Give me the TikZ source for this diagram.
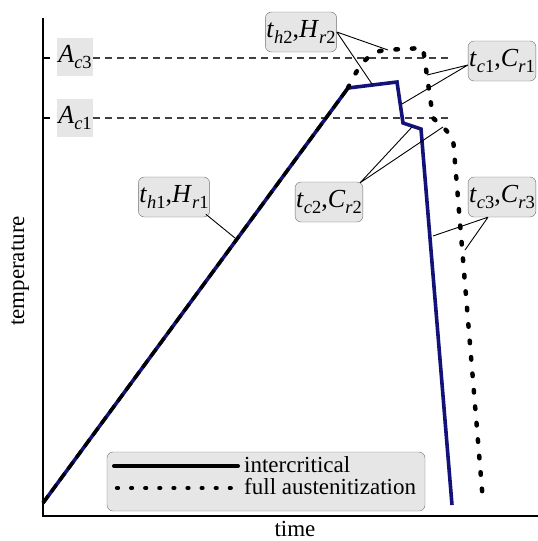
\documentclass[tikz,border=0pt]{standalone}
\usepackage{fontspec}
\setmainfont{Liberation Serif}
\usetikzlibrary{positioning}

\definecolor{navyline}{RGB}{18,18,120}
\definecolor{boxfill}{RGB}{230,230,230}
\definecolor{boxdraw}{RGB}{110,110,110}

\newcommand{\symsub}[2]{\textit{#1}\raisebox{-6pt}{\fontsize{18.5}{20}\selectfont #2}}

\tikzset{
  lbl/.style={draw=boxdraw, fill=boxfill, rounded corners=6pt, inner sep=1pt,
    minimum height=40pt, font=\fontsize{26}{30}\selectfont},
  crit/.style={fill=boxfill, inner sep=0pt, font=\fontsize{26}{30}\selectfont},
  axislab/.style={font=\fontsize{23}{26}\selectfont},
  axis/.style={line width=2.4pt},
  refline/.style={draw=black!75, line width=1.1pt, dash pattern=on 7pt off 5pt},
  interline/.style={draw=navyline, line width=3.6pt, line join=miter},
  fullline/.style={draw=black, line width=4.5pt, line cap=round, dash pattern=on 2.5pt off 14pt},
  rampline/.style={draw=black, line width=3.4pt, dash pattern=on 9pt off 5pt},
  leader/.style={draw=black, line width=0.9pt},
}

\begin{document}
\begin{tikzpicture}[x=1pt, y=-1pt]
  \useasboundingbox (0,0) rectangle (538,541);

  % Axes
  \coordinate (ytop) at (43,18);
  \coordinate (origin) at (43,516);
  \coordinate (xend) at (538,516);
  \draw[axis] (ytop) -- (origin) -- (xend);
  \node[axislab, rotate=90] (ylab) at (20,271) {temperature};
  \node[axislab] (xlab) at (295,529) {time};

  % Critical temperatures
  \node[crit, minimum width=36pt, minimum height=38pt] (ac3) at (75,57) {\symsub{A}{\textit{c}3}};
  \node[crit, minimum width=36pt, minimum height=38pt] (ac1) at (75,118) {\symsub{A}{\textit{c}1}};
  \coordinate (ac3end) at (450,58);
  \coordinate (ac1end) at (450,118);
  \draw[line width=1.2pt] (43,58) -- (50,58) (43,118) -- (50,118);
  \draw[refline] (ac3.east |- ac3end) -- (ac3end);
  \draw[refline] (ac1.east |- ac1end) -- (ac1end);

  % Cycle points
  \coordinate (start) at (43,503);
  \coordinate (top) at (348,88);
  \coordinate (i1) at (397,82);
  \coordinate (i2) at (403,123);
  \coordinate (i3) at (421,129);
  \coordinate (iend) at (452,505);
  \coordinate (f1) at (385,50);
  \coordinate (f2) at (423,48);
  \coordinate (f3) at (433,118);
  \coordinate (f4) at (444,128);
  \coordinate (f5) at (453,138);
  \coordinate (fend) at (483,502);

  % Intercritical cycle
  \draw[interline] (start) -- (top) -- (i1) -- (i2) -- (i3) -- (iend);

  % Full austenitization cycle
  \draw[rampline] (start) -- (top);
  \draw[fullline] (top) .. controls (360,62) and (370,52) .. (f1) -- (f2)
    -- (f3) -- (f4) -- (f5) -- (fend);

  % Labels
  \node[lbl] (h1) at (174,197) {\symsub{t}{\textit{h}1},\symsub{H}{\textit{r}1}};
  \node[lbl] (h2) at (301,32) {\symsub{t}{\textit{h}2},\symsub{H}{\textit{r}2}};
  \node[lbl] (c1) at (502,61) {\symsub{t}{\textit{c}1},\symsub{C}{\textit{r}1}};
  \node[lbl] (c2) at (329,202) {\symsub{t}{\textit{c}2},\symsub{C}{\textit{r}2}};
  \node[lbl] (c3) at (502,197) {\symsub{t}{\textit{c}3},\symsub{C}{\textit{r}3}};

  \coordinate (p1) at (235,238);
  \coordinate (p2a) at (388,50);
  \coordinate (p2b) at (372,84);
  \coordinate (p3a) at (427,75);
  \coordinate (p3b) at (402,104);
  \coordinate (p4a) at (412,127);
  \coordinate (p4b) at (443,127);
  \coordinate (p5a) at (433,236);
  \coordinate (p5b) at (465,250);

  % Leader lines
  \draw[leader] ([shift={(-4,-3)}]h1.south east) -- (p1);
  \draw[leader] (h2.east) -- (p2a) (h2.east) -- (p2b);
  \draw[leader] ([yshift=-4pt]c1.west) -- (p3a) ([yshift=-4pt]c1.west) -- (p3b);
  \draw[leader] ([shift={(-3,1)}]c2.north east) coordinate (c2c) -- (p4a) (c2c) -- (p4b);
  \draw[leader] ([xshift=-14pt]c3.south) coordinate (c3c) -- (p5a) (c3c) -- (p5b);

  % Legend
  \node[lbl, minimum width=318pt, minimum height=59pt] (legend) at (266,481.5) {};
  \coordinate (la) at (114,466);
  \coordinate (lb) at (238,466);
  \coordinate (lc) at (117,488);
  \coordinate (ld) at (238,488);
  \draw[line width=4pt, line cap=round] (la) -- (lb);
  \draw[line width=4.2pt, line cap=round, dash pattern=on 1pt off 13.1pt] (lc) -- (ld);
  \node[axislab, anchor=base west, inner sep=0pt] (lt1) at (244,472) {intercritical};
  \node[axislab, anchor=base west, inner sep=0pt] (lt2) at (244,494) {full austenitization};
\end{tikzpicture}
\end{document}
